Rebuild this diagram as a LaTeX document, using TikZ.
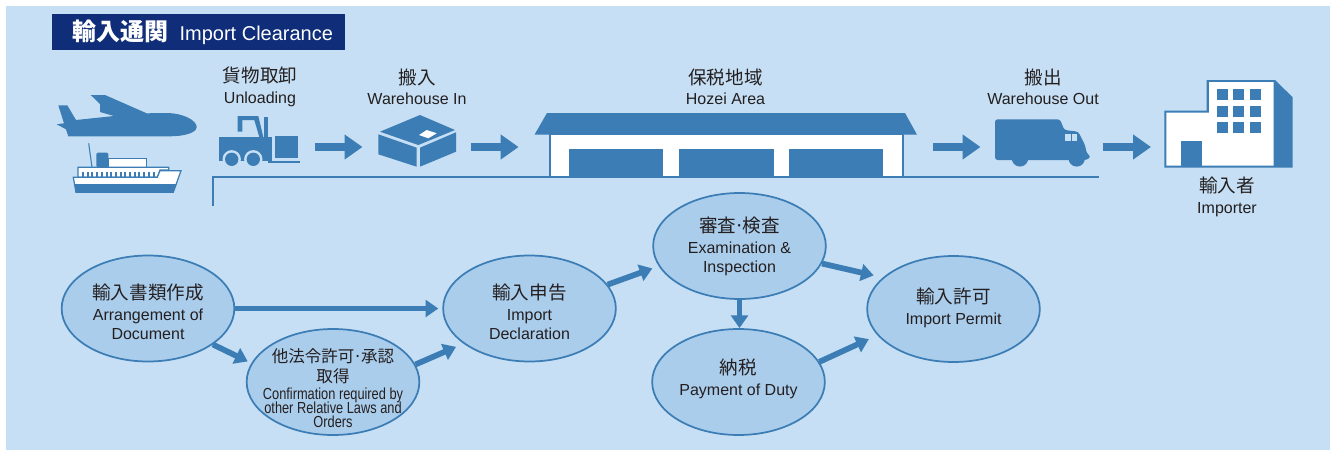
\documentclass[tikz,border=0pt]{standalone}
\usepackage{fontspec}
\setmainfont{Liberation Sans}
\newfontfamily\jpfont{Noto Sans CJK JP}
\newfontfamily\narrowfont[FakeStretch=0.8]{Liberation Sans}
\usetikzlibrary{arrows.meta,shapes.geometric}
\definecolor{panelblue}{HTML}{C6DFF4}
\definecolor{ovalblue}{HTML}{ABCDEC}
\definecolor{iconblue}{HTML}{3B7DB4}
\definecolor{titlenavy}{HTML}{0F2D78}
\definecolor{inkgrey}{HTML}{231F20}
\newcommand{\jpline}[1]{{\jpfont\fontsize{13.9}{15}\selectfont #1}}
\newcommand{\jpsmall}[1]{{\jpfont\fontsize{12.4}{15}\selectfont #1}}
\newcommand{\jpdot}{\makebox[5pt]{·}}
\newcommand{\tightlines}{\narrowfont\fontsize{12}{10.5}\selectfont\lineskiplimit=-8pt\relax}
\newcommand{\topgap}[1]{\rule{0pt}{#1}}
\newcommand{\lowgap}[1]{\rule[-#1]{0pt}{#1}}
\tikzset{
  steplabel/.style={align=center,inner sep=0pt,text=inkgrey,font=\fontsize{12}{14.25}\selectfont},
  stepoval/.style={ellipse,draw=iconblue,line width=1.3pt,fill=ovalblue,inner sep=-10pt,
    minimum width=129.5pt,minimum height=79.5pt,align=center,text=inkgrey,
    font=\fontsize{12}{14.25}\selectfont},
  bigflow/.style={draw=iconblue,line width=6pt,-{Triangle[length=13.5pt,width=18pt]}},
  ovalflow/.style={draw=iconblue,line width=4.3pt,-{Triangle[length=9.5pt,width=12.5pt]}},
  iconfill/.style={fill=iconblue,draw=none},
  iconwhite/.style={fill=white,draw=iconblue,line width=0.9pt},
}
\begin{document}
\begin{tikzpicture}[x=0.75pt,y=0.75pt,yscale=-1,xscale=1]
\useasboundingbox (0,0) rectangle (1332,450);
\fill [panelblue] (6,6) rectangle (1330,450);

\node (titlebar) [fill=titlenavy,inner sep=0pt,minimum width=219.75pt,minimum height=27pt,anchor=west] at (52,32) {};
\node (titletext) [anchor=west,inner sep=0pt,text=white] at (72,32) {{\jpfont\bfseries\fontsize{18}{18}\selectfont 輸入通関}\hspace{8.5pt}{\fontsize{15}{15}\selectfont Import Clearance}};

\node (unloadlabel) [steplabel] at (260,87) {\jpline{貨物取卸}\\[1pt]Unloading};
\node (inlabel) [steplabel] at (417,87) {\jpline{搬入}\\[1pt]Warehouse In};
\node (hozeilabel) [steplabel] at (725.5,87) {\jpline{保税地域}\\[1pt]Hozei Area};
\node (outlabel) [steplabel] at (1043,87) {\jpline{搬出}\\[1pt]Warehouse Out};
\node (importerlabel) [steplabel] at (1227,197) {\jpline{輸入者}\\[1.5pt]Importer};

\draw [iconfill] (58.3,105.3) -- (67.3,105.3) -- (76,120) -- (114,116) -- (100,112) -- (100,104) -- (90.7,95) -- (105,95) -- (146.7,113.3) -- (166.7,113) .. controls (182,113) and (197,120) .. (196.7,127.3) .. controls (196,133) and (184,136.3) .. (170,136.3) -- (68.3,136.3) -- (66,129.3) -- (56.7,124.3) -- (64,123.3) -- cycle;

\draw [iconblue,line width=0.8pt] (88.7,143.3) -- (92,167.3);
\draw [iconfill,rounded corners=1pt] (96.3,167.3) -- (96.3,152.7) -- (108.3,152.7) -- (108.3,167.3) -- cycle;
\draw [iconwhite] (108.7,158.3) rectangle (146.7,167.3);
\draw [iconwhite] (78,167.3) -- (168.7,167.3) -- (168.7,170) -- (160,170) -- (157.3,177.3) -- (78,177.3) -- cycle;
\foreach \winx in {82,86.7,...,157} {
  \fill [iconblue] (\winx,172) rectangle +(2,4.7);
}
\draw [iconwhite] (73.3,177.3) -- (157.3,177.3) -- (160,170.7) -- (181,170.7) -- (173.3,192.3) -- (76,192.3) -- cycle;
\draw [iconfill] (74.3,184) -- (176.7,184) -- (173.3,192.3) -- (76,192.3) -- cycle;

\draw [iconfill] (219,137) -- (271.7,137) -- (271.7,161) -- (219,161) -- cycle;
\draw [iconfill] (237.7,116) -- (258.3,116) -- (263.3,137) -- (259.3,137) -- (254.3,120) -- (242.3,120) -- (242.3,131.7) -- (237.7,131.7) -- cycle;
\draw [iconfill] (264,117) rectangle (268.3,137);
\draw [iconfill] (268,161) rectangle (300,163);
\draw [iconfill] (274.7,136) rectangle (298.3,158.3);
\foreach \wheelx in {231.7,253.3} {
  \fill [panelblue] (\wheelx,159.3) circle [radius=6.9pt];
  \fill [iconblue] (\wheelx,159.3) circle [radius=5pt];
}

\draw [iconfill] (420,115) -- (455,130) -- (418.3,145) -- (380,131.7) -- cycle;
\draw [iconfill] (378.3,134.3) -- (416.7,147.7) -- (416.7,166.7) -- (378.3,154.3) -- cycle;
\draw [iconfill] (420,147.7) -- (456,132.3) -- (456,151.7) -- (420,166.7) -- cycle;
\fill [white] (419,135) -- (426.7,130) -- (436.7,133.3) -- (428.3,138.3) -- cycle;

\draw [iconblue,line width=1.5pt] (213,206) -- (213,176.5) -- (1099,176.5);

\draw [iconfill] (547,113) -- (905,113) -- (917,134.7) -- (534.5,134.7) -- cycle;
\draw [iconwhite] (550,134.7) rectangle (903,176.7);
\draw [iconfill] (569,149) rectangle (663,176.7);
\draw [iconfill] (679,149) rectangle (774,176.7);
\draw [iconfill] (789,149) rectangle (883,176.7);

\draw [iconfill,rounded corners=2pt] (995,119.3) -- (1060,119.3) -- (1064.3,130) -- (1078.3,131.7) -- (1085,145) -- (1086.7,153.3) -- (1091,156.7) -- (1086.7,160) -- (995,160) -- cycle;
\fill [iconblue] (1020,158.3) circle [radius=6.2pt];
\fill [iconblue] (1076.7,158.3) circle [radius=6.2pt];
\fill [panelblue] (1065.3,134) rectangle (1070.7,140.7);
\fill [panelblue] (1072.3,134) rectangle (1077.3,140.7);

\draw [iconfill] (1206.7,80) -- (1275,80) -- (1292.7,97.3) -- (1292.7,167.7) -- (1164.3,167.7) -- (1164.3,110.7) -- (1206.7,110.7) -- cycle;
\fill [white] (1209,82) -- (1273.7,82) -- (1273.7,165.7) -- (1166.3,165.7) -- (1166.3,112.7) -- (1209,112.7) -- cycle;
\foreach \winx in {1217,1233.3,1250} {
  \foreach \winy in {89,105.7,122} {
    \fill [iconblue] (\winx,\winy) rectangle +(11,11);
  }
}
\fill [iconblue] (1181,141) rectangle (1202,165.7);

\coordinate (forkout) at (315,147);
\coordinate (boxin) at (362.5,147);
\coordinate (boxout) at (471,147);
\coordinate (hozeiin) at (518.6,147);
\coordinate (hozeiout) at (933,147);
\coordinate (truckin) at (980.5,147);
\coordinate (truckout) at (1102.5,147);
\coordinate (importerin) at (1151,147);
\draw [bigflow] (forkout) -- (boxin);
\draw [bigflow] (boxout) -- (hozeiin);
\draw [bigflow] (hozeiout) -- (truckin);
\draw [bigflow] (truckout) -- (importerin);

\node (docs) [stepoval] at (148,308.5) {\topgap{16.5pt}\jpline{輸入書類作成}\\[2pt]Arrangement of\\Document};
\node (confirm) [stepoval,font=\tightlines] at (333,382) {\topgap{20pt}\jpsmall{他法令許可\jpdot 承認}\\[4.5pt]\jpsmall{取得}\\[2.25pt]Confirmation required by\\other Relative Laws and\\Orders};
\node (declare) [stepoval] at (529.5,308.5) {\topgap{16.5pt}\jpline{輸入申告}\\[2pt]Import\\Declaration};
\node (exam) [stepoval] at (739.5,246) {\topgap{12pt}\jpline{審査\jpdot 検査}\\[2pt]Examination \&\\Inspection};
\node (duty) [stepoval] at (738.5,382) {\jpline{納税}\\[1.5pt]Payment of Duty\lowgap{7.75pt}};
\node (permit) [stepoval] at (953.5,309) {\jpline{輸入許可}\\[2pt]Import Permit\lowgap{4pt}};

\draw [ovalflow,shorten >=3pt] (docs.east) -- (declare.west);
\draw [ovalflow,shorten >=3pt] (docs.-29) -- (confirm.167);
\draw [ovalflow,shorten >=6pt] (confirm.12) -- (declare.208);
\draw [ovalflow,shorten >=5pt] (declare.17) -- (exam.194);
\draw [ovalflow,shorten >=7pt] (exam.-12) -- (permit.156);
\draw [ovalflow] (exam.south) -- (exam.south |- duty.north);
\draw [ovalflow,shorten >=7pt] (duty.14) -- (permit.199);
\end{tikzpicture}
\end{document}
